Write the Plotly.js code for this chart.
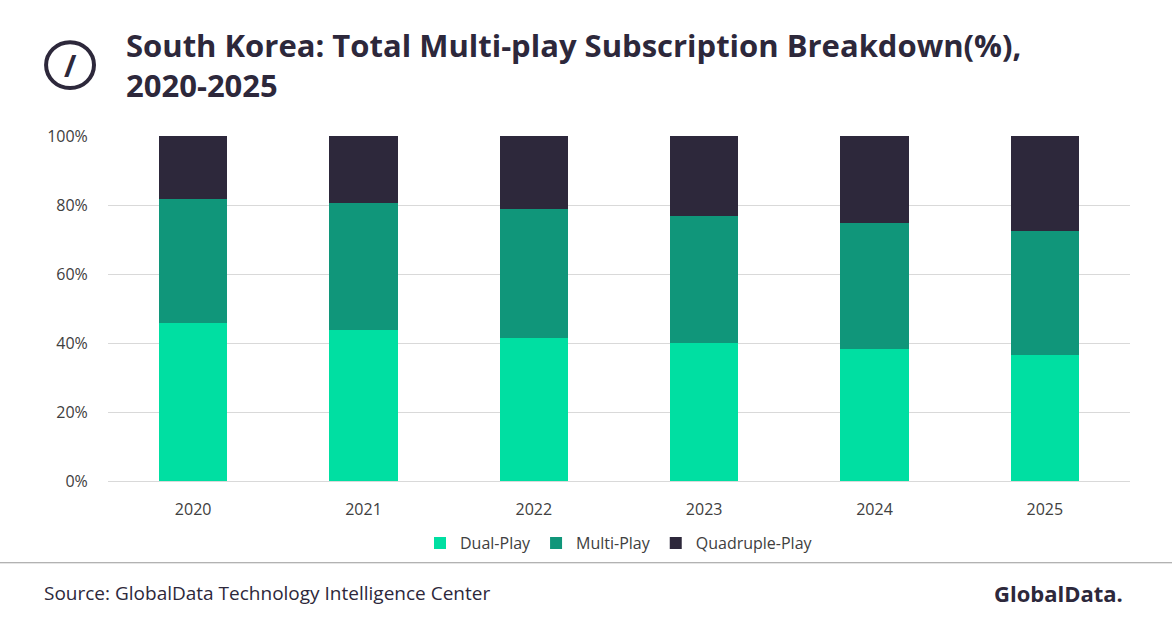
<!DOCTYPE html>
<html>
<head>
<meta charset="utf-8">
<script src="https://cdn.plot.ly/plotly-3.0.1.min.js"></script>
<style>body{margin:0;background:#fff}</style>
</head>
<body>
<div id="chart" style="width:1172px;height:628px"></div>
<script>
// values in %
var years = ['2020', '2021', '2022', '2023', '2024', '2025'];
var dualPlay = [45.8, 43.8, 41.4, 40.0, 38.3, 36.5];
var multiPlay = [35.9, 36.8, 37.4, 36.8, 36.5, 36.0];
var quadPlay = [18.3, 19.4, 21.2, 23.2, 25.2, 27.5];

function bars(name, y, color) {
  return {x: years, y: y, name: name, type: 'bar', marker: {color: color}, width: 0.4,
    hovertemplate: '%{y:.1f}%<extra>' + name + '</extra>'};
}

var data = [
  bars('Dual-Play', dualPlay, '#00DFA2'),
  bars('Multi-Play', multiPlay, '#10967A'),
  bars('Quadruple-Play', quadPlay, '#2D283B')
];

var layout = {
  barmode: 'stack',
  width: 1172, height: 628,
  margin: {l: 108, r: 42, t: 136, b: 147},
  font: {family: 'Open Sans, Arial, sans-serif', size: 16, color: '#404040'},
  paper_bgcolor: '#fff', plot_bgcolor: '#fff',
  xaxis: {tickfont: {size: 16, color: '#404040'}, showline: true, linecolor: '#d9d9d9',
    ticks: 'outside', ticklen: 14, tickcolor: 'rgba(0,0,0,0)'},
  yaxis: {range: [0, 100], dtick: 20, ticksuffix: '%', gridcolor: '#d9d9d9',
    tickfont: {size: 16, color: '#404040'}, zeroline: false, ticks: 'outside', ticklen: 16,
    tickcolor: 'rgba(0,0,0,0)'},
  legend: {orientation: 'h', x: 0.5, xanchor: 'center', y: -0.18, yanchor: 'middle',
    font: {size: 16, color: '#404040'}, traceorder: 'normal'},
  shapes: [
    {type: 'line', xref: 'paper', yref: 'paper', x0: -0.106, x1: 1.042, y0: -0.237, y1: -0.237,
      line: {color: '#999', width: 1}},
    {type: 'circle', xref: 'paper', yref: 'paper', x0: -0.0606, x1: -0.0137, y0: 1.139, y1: 1.272,
      line: {color: '#2D283B', width: 4}}
  ],
  annotations: [
    {text: '<b>South Korea: Total Multi-play Subscription Breakdown(%),<br>2020-2025</b>',
      xref: 'paper', yref: 'paper', x: 0.016, y: 1.33, xanchor: 'left', yanchor: 'top',
      align: 'left', showarrow: false, font: {size: 31, color: '#2D283B'}},
    {text: '<b>/</b>', xref: 'paper', yref: 'paper', x: -0.037, y: 1.205, xanchor: 'center',
      yanchor: 'middle', showarrow: false, font: {size: 30, color: '#2D283B'}},
    {text: 'Source: GlobalData Technology Intelligence Center', xref: 'paper', yref: 'paper',
      x: -0.065, y: -0.325, xanchor: 'left', yanchor: 'middle', showarrow: false,
      font: {size: 19, color: '#2D283B'}},
    {text: '<b>GlobalData.</b>', xref: 'paper', yref: 'paper', x: 0.995, y: -0.325,
      xanchor: 'right', yanchor: 'middle', showarrow: false, font: {size: 22, color: '#2D283B'}}
  ]
};

Plotly.newPlot('chart', data, layout, {displayModeBar: false});
</script>
</body>
</html>
